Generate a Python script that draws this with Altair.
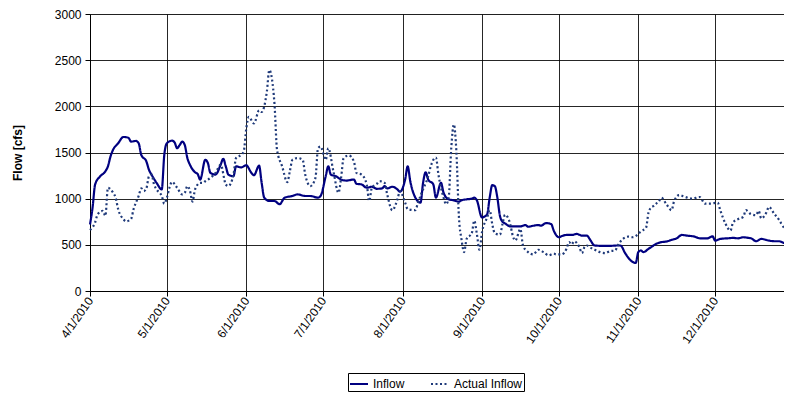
import altair as alt
import pandas as pd

series_names = ["Inflow", "Actual Inflow"]

inflow_day = [0, 1, 2, 4, 6, 7, 8, 9, 11, 13,
              15, 16, 18, 19, 20, 22, 23, 24, 26, 28,
              29, 30, 32, 33, 34, 35, 36, 37, 38, 39,
              41, 42, 43, 45, 46, 47, 49, 51, 52, 53,
              54, 56, 57, 59, 61, 63, 64, 66, 67, 68,
              70, 72, 74, 76, 79, 81, 84, 86, 89, 90,
              92, 93, 94, 96, 98, 100, 103, 104, 106, 108,
              110, 112, 114, 115, 116, 118, 120, 121, 123, 124,
              125, 127, 129, 130, 131, 132, 134, 135, 137, 138,
              140, 142, 144, 145, 147, 149, 150, 151, 153, 154,
              155, 156, 157, 158, 159, 160, 161, 162, 164, 166,
              168, 170, 171, 173, 175, 176, 178, 180, 181, 183,
              184, 186, 188, 190, 192, 194, 195, 197, 200, 203,
              206, 207, 209, 211, 213, 214, 215, 216, 218, 219,
              221, 223, 225, 227, 229, 231, 233, 236, 238, 241,
              243, 244, 246, 249, 251, 253, 255, 257, 258, 260,
              262, 265, 267, 269, 271, 273]
inflow_val = [720, 903, 1154, 1243, 1296, 1350, 1457, 1529, 1600, 1668,
              1660, 1618, 1625, 1600, 1475, 1404, 1314, 1261, 1171, 1100,
              1475, 1600, 1628, 1610, 1546, 1580, 1618, 1580, 1440, 1368,
              1286, 1268, 1207, 1421, 1386, 1279, 1261, 1368, 1432, 1350,
              1261, 1243, 1350, 1339, 1361, 1279, 1254, 1357, 1171, 1011,
              975, 975, 940, 1011, 1029, 1046, 1029, 1029, 1011, 1029,
              1243, 1350, 1261, 1243, 1207, 1196, 1207, 1161, 1154, 1118,
              1129, 1107, 1111, 1136, 1111, 1129, 1100, 1075, 1207, 1350,
              1189, 1011, 957, 1171, 1286, 1207, 1154, 1011, 1171, 1064,
              993, 982, 968, 982, 993, 1000, 1011, 982, 796, 807,
              829, 1011, 1146, 1136, 1011, 814, 750, 732, 700, 700,
              700, 714, 696, 707, 714, 707, 736, 725, 654, 582,
              593, 607, 607, 618, 600, 600, 564, 493, 489, 489,
              493, 493, 404, 332, 304, 421, 439, 421, 457, 475,
              511, 529, 536, 554, 571, 607, 600, 589, 571, 571,
              593, 546, 564, 571, 575, 571, 582, 575, 571, 539,
              564, 546, 539, 539, 521, 521]

actual_day = [0, 2, 3, 5, 6, 7, 9, 10, 11, 13,
              14, 16, 17, 19, 20, 21, 22, 23, 24, 25,
              26, 28, 29, 30, 31, 32, 34, 36, 37, 38,
              39, 40, 41, 43, 44, 45, 47, 49, 51, 53,
              54, 56, 57, 59, 60, 61, 62, 64, 66, 67,
              69, 70, 72, 73, 75, 77, 78, 79, 81, 83,
              84, 86, 88, 89, 90, 92, 93, 95, 97, 98,
              99, 101, 103, 104, 106, 108, 109, 110, 112, 113,
              115, 116, 118, 120, 121, 123, 124, 127, 128, 130,
              132, 133, 135, 136, 138, 139, 140, 141, 142, 143,
              144, 145, 146, 147, 149, 150, 151, 152, 153, 155,
              156, 157, 158, 160, 161, 162, 164, 165, 166, 168,
              169, 171, 173, 175, 177, 179, 181, 182, 184, 186,
              187, 188, 189, 191, 192, 193, 194, 195, 197, 199,
              201, 203, 205, 206, 208, 210, 212, 214, 215, 217,
              218, 219, 220, 221, 222, 223, 225, 227, 228, 230,
              232, 235, 238, 240, 242, 245, 246, 248, 250, 251,
              253, 255, 256, 258, 260, 261, 262, 264, 265, 267,
              269, 271, 272, 273]
actual_val = [661, 743, 832, 868, 814, 1118, 1064, 1011, 886, 779,
              754, 779, 886, 1029, 1111, 1082, 1111, 1243, 1261, 1154,
              1100, 1029, 946, 1011, 1118, 1182, 1118, 1046, 1064, 1136,
              1089, 968, 1100, 1171, 1171, 1189, 1225, 1279, 1368, 1154,
              1136, 1261, 1440, 1475, 1511, 1760, 1886, 1814, 1957, 1939,
              2154, 2393, 2029, 1529, 1350, 1179, 1296, 1421, 1440, 1421,
              1261, 1136, 1225, 1546, 1564, 1420, 1546, 1296, 1064, 1225,
              1440, 1468, 1404, 1279, 1261, 1154, 975, 1118, 1161, 1189,
              1171, 1046, 875, 993, 1082, 957, 886, 875, 957, 1100,
              1243, 1350, 1446, 1261, 1011, 940, 1011, 1546, 1804, 1511,
              800, 560, 421, 564, 625, 761, 618, 447, 636, 796,
              875, 725, 625, 611, 725, 825, 725, 600, 546, 671,
              493, 421, 396, 447, 421, 386, 404, 396, 396, 457,
              529, 504, 539, 475, 411, 475, 493, 475, 447, 421,
              411, 432, 439, 493, 564, 589, 582, 618, 646, 682,
              850, 903, 921, 946, 968, 1011, 940, 875, 975, 1039,
              1021, 1000, 1018, 946, 946, 957, 875, 732, 654, 743,
              779, 804, 875, 832, 821, 868, 786, 850, 911, 839,
              768, 682, 661, 654]

tick_months = [4, 5, 6, 7, 8, 9, 10, 11, 12]
y_ticks = [0, 500, 1000, 1500, 2000, 2500, 3000]

start = pd.Timestamp("2010-04-01")


def to_dates(days):
    return [(start + pd.Timedelta(days=int(d))).strftime("%Y-%m-%d") for d in days]


df = pd.concat([
    pd.DataFrame({"date": to_dates(inflow_day), "flow": inflow_val,
                  "series": series_names[0]}),
    pd.DataFrame({"date": to_dates(actual_day), "flow": actual_val,
                  "series": series_names[1]}),
], ignore_index=True)

FONT = "Liberation Sans"

x_enc = alt.X(
    "date:T",
    scale=alt.Scale(
        type="utc",
        domain=[alt.DateTime(year=2010, month=4, date=1, utc=True),
                alt.DateTime(year=2010, month=12, date=31, utc=True)],
        nice=False,
    ),
    axis=alt.Axis(
        title=None,
        values=[alt.DateTime(year=2010, month=m, date=1, utc=True) for m in tick_months],
        format="%-m/%-d/%Y",
        labelAngle=-55,
        labelAlign="right",
        labelBaseline="middle",
        labelFont=FONT,
        labelFontSize=12,
        labelColor="black",
        labelPadding=2,
        tickSize=5,
        tickColor="black",
        domainColor="black",
        grid=True,
        gridColor="black",
        gridOpacity=0.85,
        labelOverlap=False,
    ),
)

y_enc = alt.Y(
    "flow:Q",
    scale=alt.Scale(domain=[0, 3000], nice=False),
    axis=alt.Axis(
        title="Flow [cfs]",
        titleFont=FONT,
        titleFontSize=12,
        titleFontWeight="bold",
        titleColor="black",
        titlePadding=30,
        values=y_ticks,
        format="d",
        labelFont=FONT,
        labelFontSize=12,
        labelColor="black",
        labelPadding=4,
        tickSize=5,
        tickColor="black",
        domainColor="black",
        grid=True,
        gridColor="black",
        gridOpacity=0.85,
    ),
)

chart = alt.Chart(df).mark_line(strokeWidth=2.2, strokeCap="butt", interpolate="monotone").encode(
    x=x_enc,
    y=y_enc,
    color=alt.Color(
        "series:N",
        scale=alt.Scale(domain=series_names, range=["#000080", "#1f3a7a"]),
        legend=alt.Legend(
            title=None,
            orient="none",
            legendX=258,
            legendY=359,
            direction="horizontal",
            symbolType="stroke",
            symbolSize=324,
            symbolStrokeWidth=2,
            labelFont=FONT,
            labelFontSize=12,
            labelColor="black",
            labelOffset=4,
            columnPadding=22,
            padding=1,
            strokeColor="black",
            fillColor="white",
        ),
    ),
    strokeDash=alt.StrokeDash(
        "series:N",
        scale=alt.Scale(domain=series_names, range=[[1, 0], [2, 2.5]]),
        legend=None,
    ),
    order=alt.Order("date:T"),
).properties(
    width=702,
    height=277,
    autosize=alt.AutoSizeParams(type="none"),
    padding={"left": 82, "top": 6, "right": -8, "bottom": 101},
).configure_view(
    stroke="black",
).configure(
    background="white",
)

chart.save("out.html", embed_options={"renderer": "svg", "actions": False})
